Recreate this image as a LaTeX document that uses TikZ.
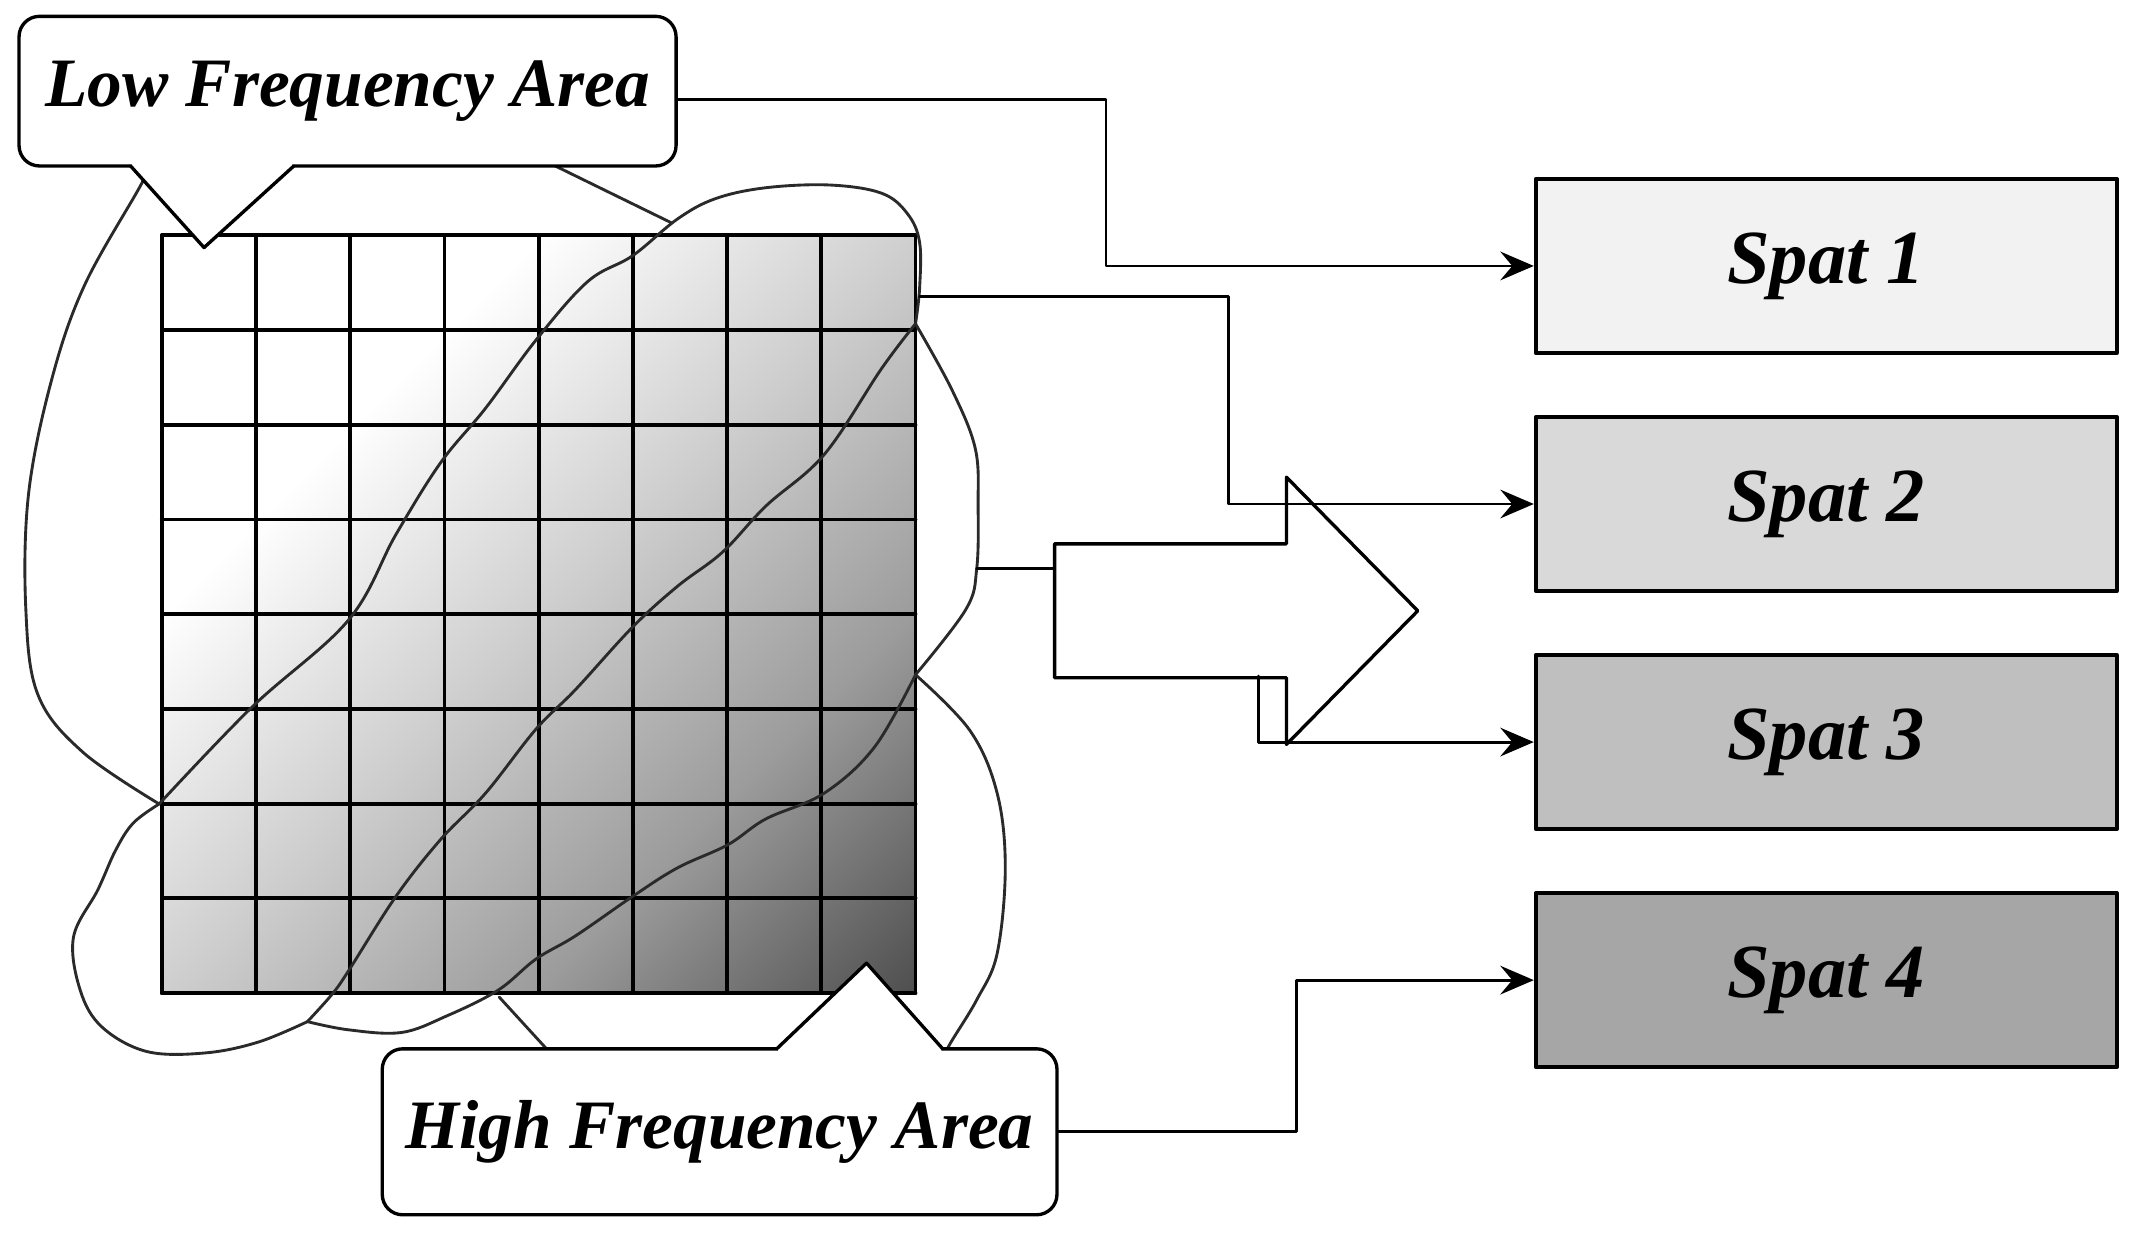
\documentclass[tikz,border=0pt]{standalone}
\usepackage{fontspec}
\setmainfont{Liberation Serif}
\usepackage{tikz}
\usetikzlibrary{arrows.meta}
\usetikzlibrary{shapes.arrows}
\definecolor{spatone}{HTML}{F2F2F2}
\definecolor{spattwo}{HTML}{D9D9D9}
\definecolor{spatthree}{HTML}{BFBFBF}
\definecolor{spatfour}{HTML}{A6A6A6}
\definecolor{cloudgray}{HTML}{2A2A2A}
\pgfdeclarehorizontalshading{gridshade}{100bp}{rgb(0bp)=(1,1,1); rgb(32.3bp)=(1,1,1); rgb(50bp)=(0.81,0.81,0.81); rgb(67.7bp)=(0.61,0.61,0.61); rgb(85.4bp)=(0.31,0.31,0.31); rgb(100bp)=(0.31,0.31,0.31)}

\begin{document}
\begin{tikzpicture}[line cap=round,line join=round,>={Stealth[length=7pt,width=6pt,inset=2.5pt]},x=0.1mm,y=-0.1mm,
    spatbox/.style={draw=black,line width=0.85pt,minimum width=4.27cm,minimum height=1.28cm,font=\fontsize{16}{19}\selectfont\bfseries\itshape},
    callbox/.style={draw=black,fill=white,line width=0.7pt,rounded corners=0.15cm,inner sep=0pt,font=\fontsize{14.5}{17}\selectfont\bfseries\itshape},
    cloud/.style={color=cloudgray,line width=0.6pt},
    conn/.style={color=black,line width=0.6pt},
    bigarrow/.style={single arrow,draw=black,fill=white,line width=0.7pt,minimum height=2.67cm,minimum width=1.94cm,single arrow head extend=0.49cm,single arrow tip angle=91,inner xsep=0pt,inner ysep=0.48cm}]
    \useasboundingbox (0,0) rectangle (1568,908);
    % coefficient grid
    \shade[shading=gridshade,shading angle=-45] (119,173) rectangle (673,730);
    \foreach \i in {0,...,8}{
      \draw[line width=0.8pt] ({119+69.25*\i},173) -- ({119+69.25*\i},730);
      \draw[line width=0.8pt] (119,{173+69.625*\i}) -- (673,{173+69.625*\i});
    }
    % frequency areas
    \draw[cloud] plot[smooth,tension=0.6] coordinates {(112,118) (103,137) (62,210) (38,279) (21,363) (19,448) (28,511) (61,553) (117,591)};
    \draw[cloud] (400,118) -- (494,164);
    \draw[cloud] plot[smooth,tension=0.6] coordinates {(117,591) (185,520) (256,456) (291,393) (324,340) (357,300) (394,250) (432,207) (465,188) (498,161) (526,146) (563,138) (610,136) (648,142) (667,157) (676,178) (676,212) (673,238)};
    \draw[cloud] plot[smooth,tension=0.6] coordinates {(673,238) (648,271) (606,334) (563,372) (531,406) (498,431) (465,461) (423,507) (394,536) (357,583) (324,617) (291,659) (256,714) (244,731) (226,751)};
    \draw[cloud] plot[smooth,tension=0.6] coordinates {(117,591) (98,605) (85,625) (72,654) (54,689) (59,728) (75,755) (108,773) (151,774) (190,766) (226,751)};
    \draw[cloud] plot[smooth,tension=0.6] coordinates {(226,751) (256,757) (295,759) (328,747) (366,728) (394,705) (423,688) (465,659) (498,638) (535,621) (563,602) (606,583) (643,549) (673,496)};
    \draw[cloud] plot[smooth,tension=0.6] coordinates {(673,238) (700,287) (717,330) (719,372) (718,418) (710,448) (673,496)};
    \draw[cloud] plot[smooth,tension=0.6] coordinates {(673,496) (713,537) (733,583) (739,638) (733,701) (718,735) (698,768) (690,785)};
    \draw[cloud] (367,733) -- (410,780);
    % callouts
    \node[callbox,minimum width=4.83cm,minimum height=1.10cm] (lowcall) at (255.5,67) {Low Frequency Area};
    \fill[white] (97,119) -- (97,122) -- (150,182) -- (215,122) -- (215,119) -- cycle;
    \draw[line width=0.7pt] (96,122) -- (150,182) -- (216,122);
    \node[callbox,minimum width=4.96cm,minimum height=1.22cm] (highcall) at (529,832) {High Frequency Area};
    \fill[white] (572,774) -- (572,771) -- (637,708) -- (692,771) -- (692,774) -- cycle;
    \draw[line width=0.7pt] (571,771) -- (637,708) -- (693,771);
    % sub-bands
    \node[spatbox,fill=spatone] (spat1) at (1342.5,195.5) {Spat 1};
    \node[spatbox,fill=spattwo] (spat2) at (1342.5,370.5) {Spat 2};
    \node[spatbox,fill=spatthree] (spat3) at (1342.5,545.5) {Spat 3};
    \node[spatbox,fill=spatfour] (spat4) at (1342.5,720.5) {Spat 4};
    \node[bigarrow,anchor=tail] (bigarr) at (774,449) {};
    \coordinate (capR) at (676,218);
    \coordinate (bulgeR) at (718,418);
    \coordinate (k1) at (813,0);
    \coordinate (k2) at (903,0);
    \coordinate (k3) at (925,497);
    \coordinate (k4) at (953,0);
    \draw[conn,->] ([yshift=-0.6mm]lowcall.east) -- ([yshift=-0.6mm]lowcall.east -| k1) |- (spat1.west);
    \draw[conn,->] (capR) -- (capR -| k2) |- (spat2.west);
    \draw[conn] (bulgeR) -- (bulgeR -| bigarr.tail);
    \draw[conn,->] (k3) |- (spat3.west);
    \draw[conn,->] (highcall.east) -- (highcall.east -| k4) |- (spat4.west);
\end{tikzpicture}
\end{document}
